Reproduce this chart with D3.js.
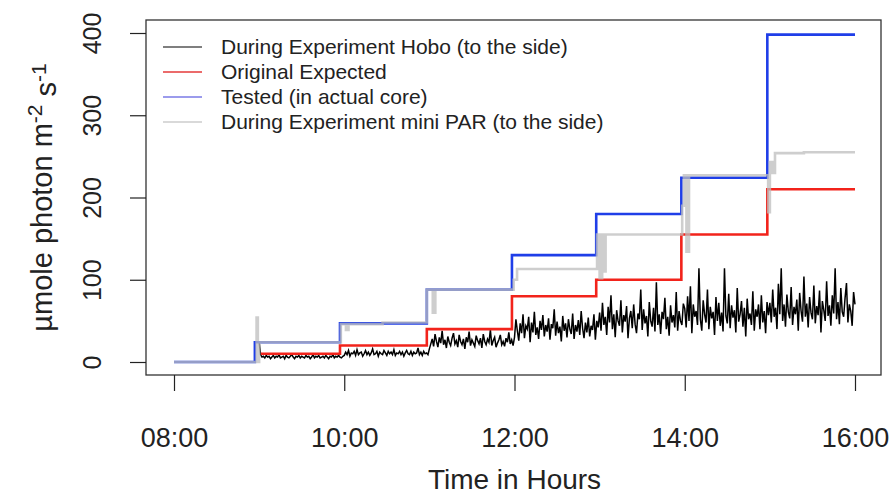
<!DOCTYPE html>
<html>
<head>
<meta charset="utf-8">
<script src="https://cdn.jsdelivr.net/npm/d3@7"></script>
<style>
  html, body { margin: 0; padding: 0; background: #fff; }
  svg { display: block; }
  text { font-family: "Liberation Sans", Arial, sans-serif; fill: #222; }
</style>
</head>
<body>
<svg id="chart" width="895" height="495"></svg>
<script>
// ---------------- DATA ----------------
const xTickHours = [8, 10, 12, 14, 16];
const xTickLabels = ["08:00", "10:00", "12:00", "14:00", "16:00"];
const yTicks = [0, 100, 200, 300, 400];

const legendLabels = [
  "During Experiment Hobo (to the side)",
  "Original Expected",
  "Tested (in actual core)",
  "During Experiment mini PAR (to the side)"
];

// Tested (in actual core) - step series
const testedHours  = [8, 8.95, 9.95, 10.97, 11.97, 12.96, 13.96, 14.97, 16];
const testedValues = [0, 24, 47, 88, 130, 180, 224, 398, 398];

// Original Expected - step series
const expectedHours  = [9.02, 9.95, 10.97, 11.97, 12.96, 13.96, 14.97, 16];
const expectedValues = [10, 20, 40, 80, 100, 155, 210, 210];

// During Experiment mini PAR - step series with transients
const miniParHours = [8, 8.97, 8.985, 9.0, 9.96, 10.02, 10.05, 10.45, 10.97, 11.04, 11.07,
  11.99, 12.03, 12.97, 13.0, 13.03, 13.05, 13.07, 13.97, 13.99, 14.02, 14.05,
  14.98, 15.0, 15.03, 15.06, 15.4, 16];
const miniParValues = [0, 54, 0, 24, 46, 39, 46, 48, 88, 60, 88,
  100, 113, 155, 102, 155, 110, 155, 190, 227, 134, 227,
  182, 243, 230, 254, 255, 255];

// During Experiment Hobo - readings every minute from 09:00 to 16:00
const hoboStartHour = 9.0;
const hoboStepMinutes = 1;
const hoboValues = [
  // 09:00-10:00
  25,9,6,7,5,8,6,7,4,6,8,5,7,6,9,5,6,7,4,8,6,5,7,9,6,4,7,6,8,5,7,6,5,8,6,7,4,6,9,5,7,6,8,5,6,7,5,8,6,4,7,6,9,5,7,6,8,6,5,7,
  // 10:00-11:00
  8,12,9,14,7,11,10,13,8,15,9,11,12,7,10,14,9,12,8,11,16,9,10,13,7,12,10,9,14,11,8,13,10,12,9,15,8,11,10,13,9,12,7,11,14,10,9,13,8,12,10,11,17,9,12,8,13,10,11,9,
  // 11:00-12:00
  16,22,28,19,34,25,18,30,23,38,21,27,17,31,24,20,29,35,22,26,18,33,25,21,28,16,30,24,37,20,27,23,19,32,26,22,29,17,34,25,21,28,24,39,20,26,30,18,23,27,33,21,25,19,29,24,36,22,27,20,
  // 12:00-13:00
  30,52,38,26,47,35,58,29,44,40,55,24,48,36,61,33,42,28,50,39,57,31,45,37,53,27,46,41,64,32,49,35,43,25,56,38,47,30,52,40,34,59,28,45,37,51,33,62,41,29,48,36,54,31,44,39,58,27,50,42,
  // 13:00-14:00
  60,38,72,45,55,33,67,48,81,40,58,30,63,50,44,75,36,57,49,68,29,53,62,41,70,46,35,59,52,88,39,64,47,56,31,73,50,43,66,37,97,45,58,34,61,52,78,40,55,32,69,48,57,42,85,38,62,50,45,71,
  // 14:00-15:00
  65,42,80,50,92,35,70,55,62,45,114,52,38,75,58,48,88,40,67,53,61,33,79,50,72,44,60,37,114,56,47,83,41,69,54,63,36,90,49,58,74,43,66,31,77,52,59,45,86,38,64,55,70,40,81,48,62,35,73,57,
  // 15:00-16:00
  72,48,88,55,66,40,95,58,114,50,70,43,82,61,53,91,45,67,58,76,38,84,62,49,104,55,71,42,79,60,52,93,47,68,57,87,36,74,63,50,98,56,69,44,81,59,114,52,73,46,90,61,55,78,96,48,70,62,44,85,
  70
];

// ---------------- CHART ----------------
const svg = d3.select("#chart");
const box = { left: 146, right: 881, top: 20, bottom: 375 };

const x = d3.scaleLinear().domain([8, 16]).range([174, 855]);
const y = d3.scaleLinear().domain([0, 400]).range([362, 33]);

const colors = {
  hobo: "#000000",
  expected: "#f2231b",
  tested: "#1f3ee8",
  minipar: "#bdbdbd"
};

const plot = svg.append("g");

// Hobo (black noisy line)
const hoboData = hoboValues.map((v, i) => ({ t: hoboStartHour + i * hoboStepMinutes / 60, v }));
plot.append("path")
  .datum(hoboData)
  .attr("fill", "none")
  .attr("stroke", colors.hobo)
  .attr("stroke-width", 1.5)
  .attr("stroke-linejoin", "miter")
  .attr("d", d3.line().x(d => x(d.t)).y(d => y(d.v)));

const stepLine = d3.line().curve(d3.curveStepAfter).x(d => x(d.t)).y(d => y(d.v));

function stepSeries(hours, values, color, width, opacity) {
  const data = hours.map((t, i) => ({ t, v: values[i] }));
  plot.append("path")
    .datum(data)
    .attr("fill", "none")
    .attr("stroke", color)
    .attr("stroke-width", width)
    .attr("stroke-opacity", opacity)
    .attr("d", stepLine);
}

stepSeries(expectedHours, expectedValues, colors.expected, 2.6, 1);
stepSeries(testedHours, testedValues, colors.tested, 2.6, 1);
stepSeries(miniParHours, miniParValues, colors.minipar, 2.6, 0.75);

// Plot box
svg.append("rect")
  .attr("x", box.left).attr("y", box.top)
  .attr("width", box.right - box.left).attr("height", box.bottom - box.top)
  .attr("fill", "none").attr("stroke", "#333").attr("stroke-width", 1.3);

const tickFont = "27px";

// X axis
const xAxis = svg.append("g")
  .attr("transform", `translate(0,${box.bottom})`)
  .call(d3.axisBottom(x).tickValues(xTickHours).tickSize(16).tickFormat((d, i) => xTickLabels[i]));
xAxis.select(".domain").remove();
xAxis.selectAll(".tick line").attr("stroke", "#222").attr("stroke-width", 1.2);
xAxis.selectAll(".tick text")
  .attr("y", 72).attr("dy", "0")
  .style("font-size", tickFont)
  .style("font-family", "'Liberation Sans', Arial, sans-serif")
  .attr("fill", "#222");

// Y axis
const yAxis = svg.append("g")
  .attr("transform", `translate(${box.left},0)`)
  .call(d3.axisLeft(y).tickValues(yTicks).tickSize(16));
yAxis.select(".domain").remove();
yAxis.selectAll(".tick line").attr("stroke", "#222").attr("stroke-width", 1.2);
yAxis.selectAll(".tick text")
  .attr("x", null)
  .attr("transform", "translate(-54,0) rotate(-90)")
  .attr("text-anchor", "middle")
  .attr("dy", "0.35em")
  .style("font-size", "25px")
  .style("font-family", "'Liberation Sans', Arial, sans-serif")
  .attr("fill", "#222");

// Axis titles
svg.append("text")
  .attr("x", (x(8) + x(16)) / 2).attr("y", 489)
  .attr("text-anchor", "middle")
  .style("font-size", "28px")
  .text("Time in Hours");

const yTitle = svg.append("text")
  .attr("transform", `translate(52,${(box.top + box.bottom) / 2}) rotate(-90)`)
  .attr("text-anchor", "middle")
  .style("font-size", "29px");
yTitle.append("tspan").text("µmole photon m");
yTitle.append("tspan").attr("dy", "-0.5em").style("font-size", "21px").text("-2");
yTitle.append("tspan").attr("dy", "0.5em").text(" s");
yTitle.append("tspan").attr("dy", "-0.5em").style("font-size", "21px").text("-1");

// Legend
const legendColors = ["#555555", "#e53a3a", "#7a7ae6", "#cccccc"];
const legend = svg.append("g");
legendLabels.forEach((lab, i) => {
  const ly = 47 + i * 25;
  legend.append("line")
    .attr("x1", 163).attr("x2", 202).attr("y1", ly).attr("y2", ly)
    .attr("stroke", legendColors[i]).attr("stroke-width", 1.6);
  legend.append("text")
    .attr("x", 221).attr("y", ly).attr("dy", "0.35em")
    .style("font-size", "21px")
    .attr("fill", "#333")
    .text(lab);
});
</script>
</body>
</html>
